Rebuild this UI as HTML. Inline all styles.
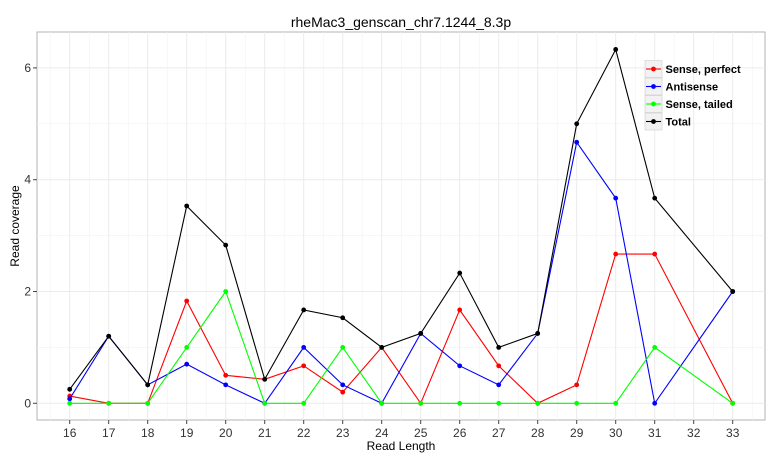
<!DOCTYPE html>
<html><head><meta charset="utf-8"><style>
body{margin:0;background:#fff;font-family:"Liberation Sans",sans-serif}
</style></head><body>
<svg id="c" width="780" height="460" xmlns="http://www.w3.org/2000/svg"></svg>
<script>
const categories=['16','17','18','19','20','21','22','23','24','25','26','27','28','29','30','31','32','33'];
const xVals=['16','17','18','19','20','21','22','23','24','25','26','27','28','29','30','31','33'];
const sensePerfect=[0.13,0,0,1.83,0.5,0.43,0.67,0.2,1,0,1.67,0.67,0,0.33,2.67,2.67,0];
const antisense=[0.08,1.2,0.33,0.7,0.33,0,1,0.33,0,1.25,0.67,0.33,1.25,4.67,3.67,0,2];
const senseTailed=[0,0,0,1,2,0,0,1,0,0,0,0,0,0,0,1,0];
const total=[0.25,1.2,0.33,3.53,2.83,0.43,1.67,1.53,1,1.25,2.33,1,1.25,5,6.33,3.67,2];
const yTicks=[0,2,4,6];
const NS='http://www.w3.org/2000/svg';
const svg=document.getElementById('c');
const L=37,R=765,T=32,B=420;
function x(c){return 69.7+categories.indexOf(c)*39;}
function y(v){return 403.3-v*55.9;}
function el(t,a,p){const e=document.createElementNS(NS,t);for(const k in a)e.setAttribute(k,a[k]);(p||svg).appendChild(e);return e;}
const panel=el('rect',{x:L,y:T,width:R-L,height:B-T,fill:'#fff',stroke:'#b3b3b3','stroke-width':1});


// minor grid
for(let v=1;v<=5;v+=2){const g=el('line',{x1:L,x2:R,y1:y(v),y2:y(v),stroke:'#f2f2f2','stroke-width':0.6});}
for(let i=0;i<=categories.length;i++){const xx=69.7+(i-0.5)*39;if(xx<L||xx>R)continue;const g=el('line',{x1:xx,x2:xx,y1:T,y2:B,stroke:'#f2f2f2','stroke-width':0.6});}
yTicks.forEach(v=>{
 const g=el('line',{x1:L,x2:R,y1:y(v),y2:y(v),stroke:'#ebebeb','stroke-width':1});
 
 el('line',{x1:L-4,x2:L,y1:y(v),y2:y(v),stroke:'#444'});
 const t=el('text',{x:L-6,y:y(v)+4,'text-anchor':'end','font-size':12,fill:'#333'});t.textContent=v;
 
});
categories.forEach(c=>{
 const g=el('line',{x1:x(c),x2:x(c),y1:T,y2:B,stroke:'#ebebeb','stroke-width':1});
 
 el('line',{x1:x(c),x2:x(c),y1:B,y2:B+4,stroke:'#444'});
 const t=el('text',{x:x(c),y:B+17,'text-anchor':'middle','font-size':12,fill:'#333'});t.textContent=c;
 
});
const series=[[sensePerfect,'#ff0000','sense-perfect'],[antisense,'#0000ff','antisense'],[senseTailed,'#00ff00','sense-tailed'],[total,'#000000','total']];
series.forEach(([d,col,n])=>{
 const g=el('g',{});
 el('polyline',{points:d.map((v,i)=>x(xVals[i])+','+y(v)).join(' '),fill:'none',stroke:col,'stroke-width':1.1},g);
 d.forEach((v,i)=>{const p=el('circle',{cx:x(xVals[i]),cy:y(v),r:2.4,fill:col},g);});
});
const t=el('text',{x:401,y:27,'text-anchor':'middle','font-size':14,fill:'#000'});t.textContent='rheMac3_genscan_chr7.1244_8.3p';

const xl=el('text',{x:401,y:450,'text-anchor':'middle','font-size':12,fill:'#000'});xl.textContent='Read Length';

const yl=el('text',{x:0,y:0,transform:'translate(19,226) rotate(-90)','text-anchor':'middle','font-size':12,fill:'#000'});yl.textContent='Read coverage';

const leg=el('g',{});
const names=['Sense, perfect','Antisense','Sense, tailed','Total'];
series.forEach(([d,col,n],i)=>{
 const yy=69+i*17.5;
 const e=el('g',{},leg);
 el('rect',{x:645,y:yy-8.5,width:17,height:17,fill:'#f2f2f2',stroke:'#ccc','stroke-width':0.6},e);
 el('line',{x1:646,x2:661,y1:yy,y2:yy,stroke:col,'stroke-width':1.1},e);
 el('circle',{cx:653.5,cy:yy,r:2.4,fill:col},e);
 const tt=el('text',{x:665.5,y:yy+4,'font-size':11,'font-weight':'bold',fill:'#000'},e);tt.textContent=names[i];
});
</script>
</body></html>
